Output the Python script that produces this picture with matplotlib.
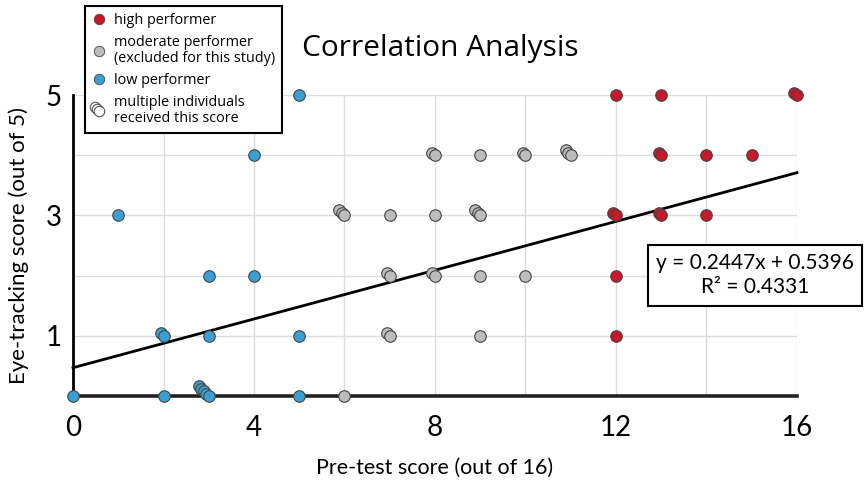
import matplotlib
matplotlib.use("Agg")
import matplotlib.pyplot as plt
from matplotlib.lines import Line2D
from matplotlib.legend_handler import HandlerBase
from matplotlib.transforms import offset_copy

# score pairs (pre-test, eye-tracking) and how many individuals share each one
high_x = [12, 13, 16, 13, 14, 15, 12, 13, 14, 12, 12]
high_y = [5, 5, 5, 4, 4, 4, 3, 3, 3, 2, 1]
high_n = [1, 1, 2, 2, 1, 1, 2, 2, 1, 1, 1]

mod_x = [6, 7, 9, 7, 8, 9, 10, 6, 7, 8, 9, 8, 9, 10, 11]
mod_y = [0, 1, 1, 2, 2, 2, 2, 3, 3, 3, 3, 4, 4, 4, 4]
mod_n = [1, 2, 1, 2, 2, 1, 1, 3, 1, 1, 3, 2, 1, 2, 3]

low_x = [0, 2, 3, 5, 2, 3, 5, 3, 4, 1, 4, 5]
low_y = [0, 0, 0, 0, 1, 1, 1, 2, 2, 3, 4, 5]
low_n = [1, 1, 5, 1, 2, 1, 1, 1, 1, 1, 1, 1]

# trend line as drawn in the figure
trend_x = [0, 16]
trend_y = [0.47, 3.71]

x_ticks = list(range(0, 17, 2))
x_labels = ["0", "", "4", "", "8", "", "12", "", "16"]
y_ticks = list(range(0, 6))
y_labels = ["", "1", "", "3", "", "5"]

equation = "y = 0.2447x + 0.5396\nR\u00b2 = 0.4331"

RED = "#c8182c"
GREY = "#bdbdbd"
BLUE = "#3c9fd2"
EDGE = "#444444"


class StackedHandler(HandlerBase):
    def create_artists(self, legend, orig_handle, xdescent, ydescent,
                       width, height, fontsize, trans):
        cx = width / 2 - xdescent
        cy = height / 2 - ydescent
        arts = []
        for k in (2, 1, 0):
            m = Line2D([cx - 1.6 * k], [cy + 1.6 * k], marker="o", markersize=7.5,
                       markerfacecolor="white", markeredgecolor="#555555",
                       markeredgewidth=0.8, linestyle="none", transform=trans)
            arts.append(m)
        return arts


fig = plt.figure(figsize=(8.66, 4.82), dpi=100)
ax = fig.add_axes([0.0843, 0.1784, 0.836, 0.6245])

ax.set_xlim(0, 16)
ax.set_ylim(0, 5)
ax.set_xticks(x_ticks, labels=x_labels)
ax.set_yticks(y_ticks, labels=y_labels)
ax.tick_params(axis="x", length=0, labelsize=20, pad=14)
ax.tick_params(axis="y", length=0, labelsize=20, pad=8)
for lab in ax.get_xticklabels() + ax.get_yticklabels():
    lab.set_family("Lato")
ax.grid(True, color="#dcdcdc", linewidth=1)
ax.set_axisbelow(True)

for side in ("top", "right"):
    ax.spines[side].set_visible(False)
ax.spines["left"].set_linewidth(2)
ax.spines["left"].set_color("black")
ax.spines["bottom"].set_linewidth(2.6)
ax.spines["bottom"].set_color("#222222")

ax.plot(trend_x, trend_y, color="black", linewidth=2, zorder=4, clip_on=False)


def draw_group(xs, ys, ns, color):
    for x, y, n in zip(xs, ys, ns):
        for k in range(n - 1, -1, -1):
            tr = offset_copy(ax.transData, fig=fig, x=-1.8 * k, y=1.8 * k, units="points")
            ax.plot([x], [y], marker="o", markersize=8.3, markerfacecolor=color,
                    markeredgecolor=EDGE, markeredgewidth=0.8, linestyle="none",
                    transform=tr, clip_on=False, zorder=5)


draw_group(mod_x, mod_y, mod_n, GREY)
draw_group(low_x, low_y, low_n, BLUE)
draw_group(high_x, high_y, high_n, RED)

ax.set_xlabel("Pre-test score (out of 16)", fontsize=15.5, family="Lato", labelpad=12)
ax.set_ylabel("Eye-tracking score (out of 5)", fontsize=16, family="Lato", labelpad=12)

fig.text(0.508, 0.899, "Correlation Analysis", fontsize=21.5, family="Open Sans",
         ha="center", va="center")

fig.text(0.872, 0.429, equation, fontsize=15, family="Lato", ha="center", va="center",
         linespacing=1.25,
         bbox=dict(boxstyle="square,pad=0.4", facecolor="white", edgecolor="black",
                   linewidth=1.5))

handles = [
    Line2D([], [], marker="o", markersize=7.5, markerfacecolor=RED, markeredgecolor=EDGE,
           markeredgewidth=0.6, linestyle="none"),
    Line2D([], [], marker="o", markersize=7.5, markerfacecolor=GREY, markeredgecolor=EDGE,
           markeredgewidth=0.6, linestyle="none"),
    Line2D([], [], marker="o", markersize=7.5, markerfacecolor=BLUE, markeredgecolor=EDGE,
           markeredgewidth=0.6, linestyle="none"),
    Line2D([], [], linestyle="none"),
]
labels = [
    "high performer",
    "moderate performer\n(excluded for this study)",
    "low performer",
    "multiple individuals\nreceived this score",
]
leg = ax.legend(handles, labels, loc="upper left", bbox_to_anchor=(0.0166, 1.296),
                borderaxespad=0, fancybox=False, edgecolor="black", framealpha=1,
                prop={"family": "Open Sans", "size": 10.4}, handlelength=1.0,
                handletextpad=0.5, labelspacing=0.5, borderpad=0.5,
                handler_map={handles[3]: StackedHandler()})
leg.get_frame().set_linewidth(1.5)
leg.set_zorder(10)
for t in leg.get_texts():
    t.set_linespacing(1.05)

fig.savefig("out.png", dpi=100)
